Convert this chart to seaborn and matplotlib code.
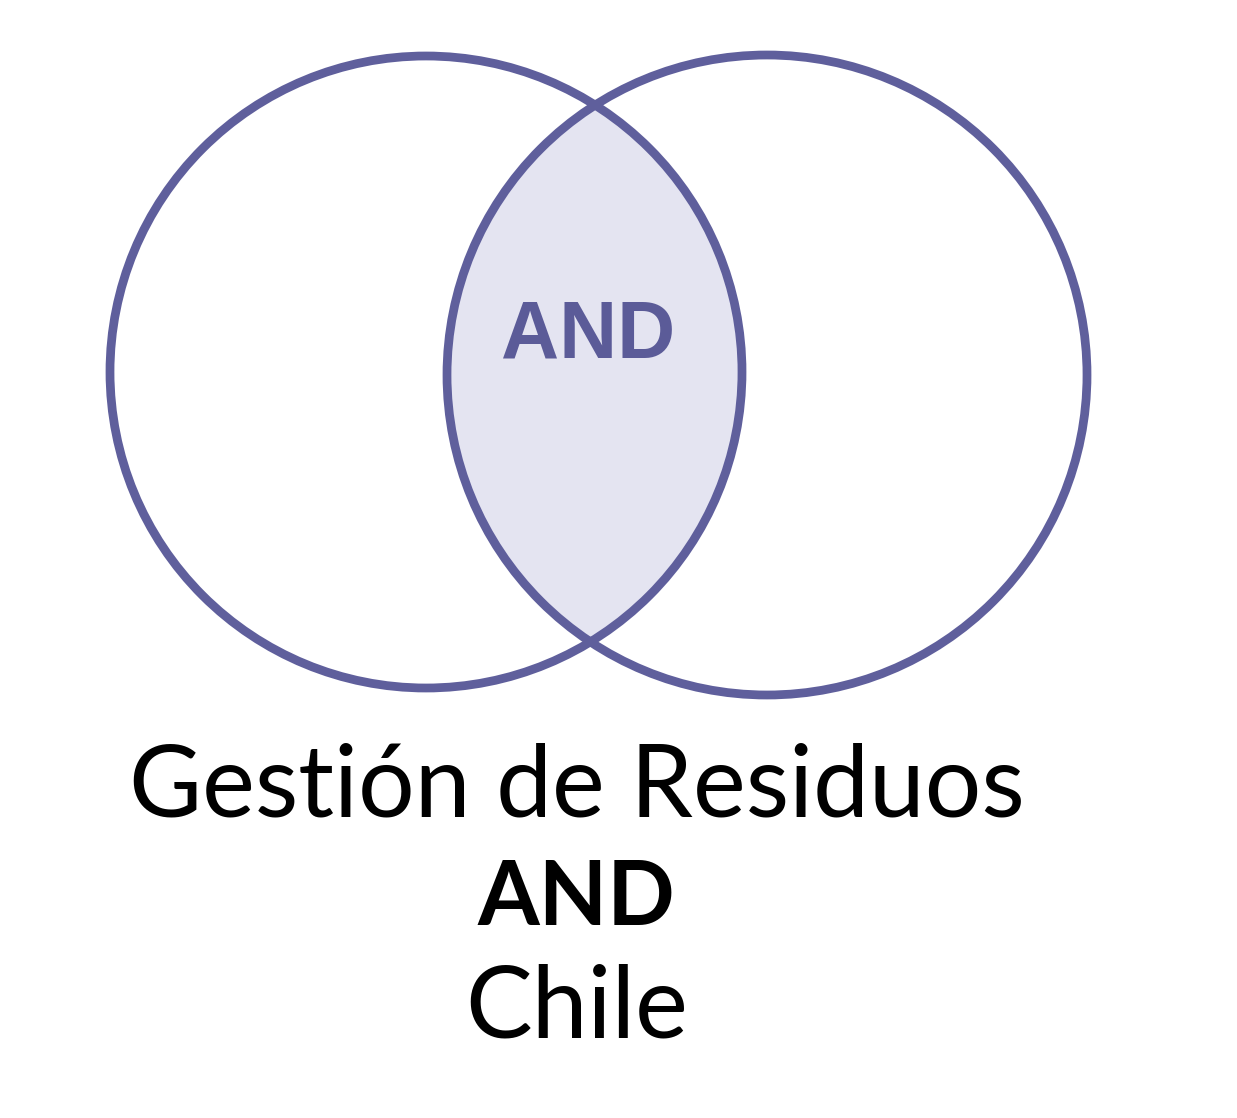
import matplotlib
matplotlib.use("Agg")
import matplotlib.pyplot as plt
from matplotlib.patches import Circle
import seaborn as sns

# Data: set labels
set_names = ["Gestión de Residuos", "Chile"]
operator = "AND"

sns.set_theme(style="white")
plt.rcParams['font.family'] = ['Lato', 'DejaVu Sans']

W, H = 1237, 1118
fig = plt.figure(figsize=(W / 100, H / 100), dpi=100)
ax = fig.add_axes([0, 0, 1, 1])
ax.set_xlim(0, W)
ax.set_ylim(H, 0)
ax.set_aspect('equal')
ax.axis('off')

edge = '#5f5f9c'
fill = '#e4e4f1'

c1 = Circle((426, 372), 316, facecolor='none', edgecolor=edge, lw=6.3)
c2 = Circle((767, 375), 320, facecolor='none', edgecolor=edge, lw=6.3)
lens = Circle((767, 375), 320, facecolor=fill, edgecolor='none')
clip = Circle((426, 372), 316, transform=ax.transData)
ax.add_patch(lens)
lens.set_clip_path(clip)
ax.add_patch(c1)
ax.add_patch(c2)

ax.text(588, 336, operator, ha='center', va='center', fontsize=58,
        fontweight='bold', color='#5b5b98', family=['Liberation Sans', 'DejaVu Sans'])

ax.text(577, 788, set_names[0], ha='center', va='center', fontsize=72, color='black')
ax.text(576, 899, operator, ha='center', va='center', fontsize=64, fontweight='bold', color='black')
ax.text(577, 1009, set_names[1], ha='center', va='center', fontsize=72, color='black')

fig.savefig('out.png', dpi=100)
